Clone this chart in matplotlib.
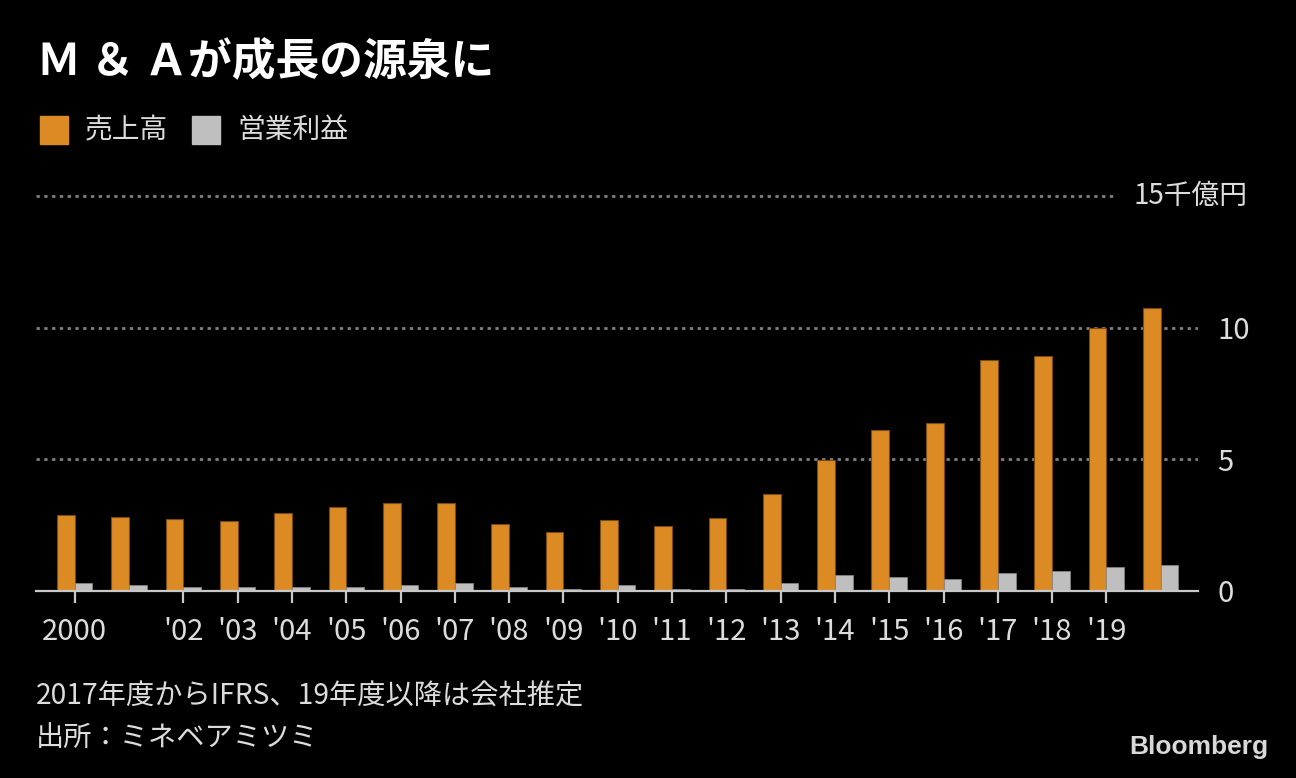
import numpy as np
import matplotlib
matplotlib.use("Agg")
import matplotlib.pyplot as plt
from matplotlib.transforms import blended_transform_factory

# 売上高 / 営業利益 (千億円), fiscal 2000-2020
years = list(range(2000, 2021))
sales = [2.89, 2.81, 2.74, 2.66, 2.97, 3.19, 3.34, 3.34, 2.56, 2.25, 2.71,
         2.48, 2.79, 3.69, 4.98, 6.11, 6.39, 8.79, 8.94, 10.0, 10.75]
profit = [0.29, 0.22, 0.14, 0.14, 0.14, 0.14, 0.22, 0.29, 0.15, 0.08, 0.23,
          0.08, 0.08, 0.30, 0.61, 0.53, 0.44, 0.67, 0.75, 0.90, 0.97]
tick_years = [2000, 2002, 2003, 2004, 2005, 2006, 2007, 2008, 2009, 2010,
              2011, 2012, 2013, 2014, 2015, 2016, 2017, 2018, 2019]
tick_labels = ["2000"] + ["'%02d" % (y % 100) for y in tick_years[1:]]
y_ticks = [0, 5, 10]

title = "Ｍ ＆ Ａが成長の源泉に"
legend_names = ["売上高", "営業利益"]
note1 = "2017年度からIFRS、19年度以降は会社推定"
note2 = "出所：ミネベアミツミ"

ORANGE = "#dc8a24"
GRAY = "#bfbfbf"
TEXT = "#dcdcdc"
GRID = dict(color="#7e7e7e", lw=2.0, ls=(0, (1.2, 1.6)), zorder=1)

plt.rcParams["font.family"] = ["Noto Sans CJK JP", "DejaVu Sans"]

fig = plt.figure(figsize=(12.96, 7.78), dpi=100, facecolor="black")
ax = fig.add_axes([36 / 1296, 187 / 778, 1162 / 1296, 395 / 778])
ax.set_facecolor("black")

x = np.arange(len(years))
w = 0.326
ax.bar(x - w / 2, sales, width=w, color=ORANGE, edgecolor="#7a4a10",
       linewidth=0.8, zorder=3)
ax.bar(x + w / 2, profit, width=w, color=GRAY, edgecolor="#8a8a8a",
       linewidth=0.5, zorder=3)

ax.set_xlim(-0.713, 20.687)
ax.set_ylim(0, 15)

# dotted gridlines
for v in [5, 10]:
    ax.axhline(v, **GRID)
ax.axhline(15, xmax=(1113 - 36) / 1162, clip_on=False, **GRID)

for s in ["top", "left", "right"]:
    ax.spines[s].set_visible(False)
ax.spines["bottom"].set_color("#c8c8c8")
ax.spines["bottom"].set_linewidth(1.6)
ax.spines["bottom"].set_zorder(4)

ax.set_xticks([years.index(y) for y in tick_years])
ax.set_xticklabels(tick_labels)
ax.tick_params(axis="x", length=8.5, width=1.6, color="#c8c8c8",
               labelcolor=TEXT, labelsize=21, pad=10)

ax.yaxis.tick_right()
ax.set_yticks(y_ticks)
ax.set_yticklabels([str(v) for v in y_ticks])
ax.tick_params(axis="y", length=0, labelcolor=TEXT, labelsize=21, pad=14)

trans = blended_transform_factory(ax.transAxes, ax.transData)
ax.text((1248 - 36) / 1162, 15, "15千億円", transform=trans, ha="right",
        va="center", color=TEXT, fontsize=20)

# title and legend
fig.text(37 / 1296, 1 - 62 / 778, title, color="white", fontsize=31.5,
         fontweight="bold", va="center", ha="left")

for name, c, xs in zip(legend_names, [ORANGE, GRAY], [40, 192]):
    fig.patches.append(plt.Rectangle((xs / 1296, 1 - 144 / 778), 28 / 1296,
                                     28 / 778, transform=fig.transFigure,
                                     color=c, figure=fig))
    fig.text((xs + 45) / 1296, 1 - 130 / 778, name, color=TEXT,
             fontsize=20, va="center", ha="left")

# footnotes
fig.text(36 / 1296, 1 - 696 / 778, note1, color=TEXT, fontsize=20.3,
         va="center", ha="left")
fig.text(36 / 1296, 1 - 738 / 778, note2, color=TEXT, fontsize=20.3,
         va="center", ha="left")
fig.text(1268 / 1296, 1 - 747 / 778, "Bloomberg", color="#d8d8d8",
         fontsize=19, fontweight="bold", va="center", ha="right",
         family=["Liberation Sans Narrow", "Liberation Sans", "DejaVu Sans"])

fig.savefig("out.png", dpi=100, facecolor="black")
